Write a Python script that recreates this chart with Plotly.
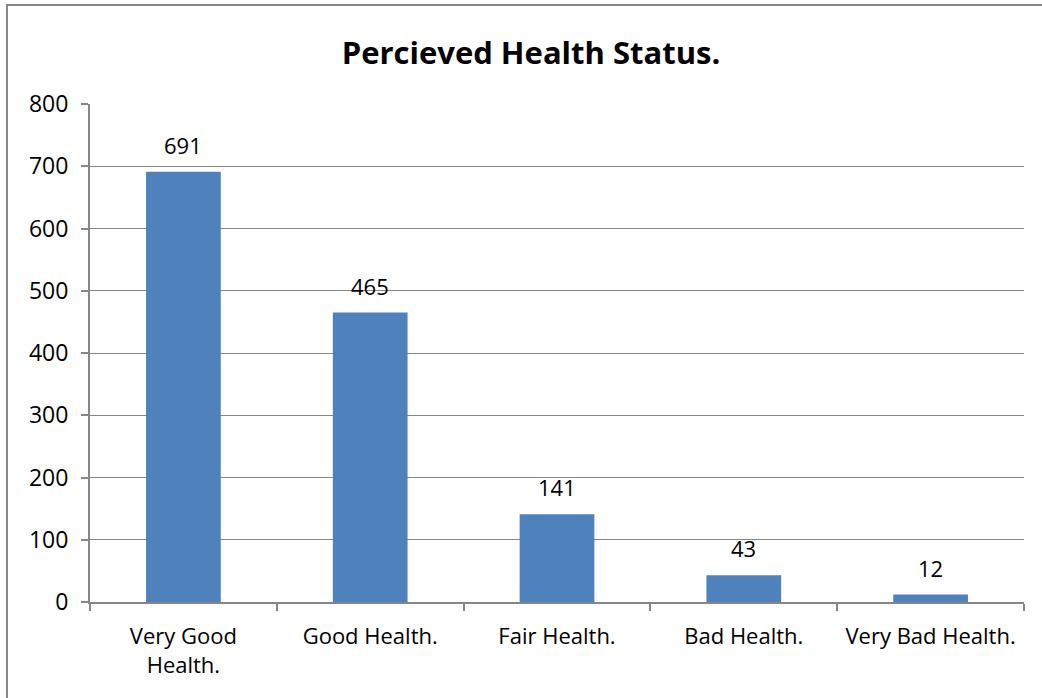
import plotly.graph_objects as go

categories = ["Very Good<br>Health.", "Good Health.", "Fair Health.", "Bad Health.", "Very Bad Health."]
counts = [691, 465, 141, 43, 12]
y_ticks = [0, 100, 200, 300, 400, 500, 600, 700, 800]

FONT = "'Open Sans', Lato, sans-serif"
GRID = "rgb(134,134,134)"

fig = go.Figure()
fig.add_trace(
    go.Bar(
        x=categories,
        y=counts,
        width=0.4,
        marker={"color": "#4F81BD", "line": {"width": 0}},
        hoverinfo="x+y",
    )
)
for cat, val in zip(categories, counts):
    fig.add_annotation(
        x=cat, y=val, text=str(val), showarrow=False,
        yanchor="bottom", yshift=10,
        font={"family": FONT, "size": 22, "color": "black"},
    )

# outer chart border: only left and top edges are visible in the reference
fig.add_shape(
    type="path", xref="paper", yref="paper",
    path="M -0.0889,-0.6 L -0.0889,1.1988 L 1.3,1.1988",
    line={"color": "rgb(134,134,134)", "width": 2},
    layer="below",
)

fig.update_layout(
    width=1042,
    height=698,
    paper_bgcolor="white",
    plot_bgcolor="white",
    margin={"l": 90, "r": 18, "t": 104, "b": 96, "autoexpand": False},
    showlegend=False,
    bargap=0.6,
    title={
        "text": "<b>Percieved Health Status.</b>",
        "x": 531 / 1042, "xanchor": "center", "xref": "container",
        "y": 1 - 53 / 698, "yanchor": "middle",
        "font": {"family": FONT, "size": 31, "color": "black"},
    },
    font={"family": FONT, "size": 22, "color": "black"},
    xaxis={
        "showline": True, "linecolor": GRID, "linewidth": 2,
        "ticks": "outside", "tickson": "boundaries", "ticklen": 7,
        "tickcolor": GRID, "tickwidth": 2,
        "showgrid": False,
        "tickangle": 0,
        "automargin": False,
        "tickfont": {"size": 22, "family": FONT},
        "ticklabelstandoff": 14,
    },
    yaxis={
        "range": [0, 800],
        "tickvals": y_ticks,
        "showline": True, "linecolor": GRID, "linewidth": 2,
        "ticks": "outside", "ticklen": 7, "tickcolor": GRID, "tickwidth": 2,
        "showgrid": True, "gridcolor": GRID, "gridwidth": 1,
        "zeroline": False,
        "automargin": False,
        "tickfont": {"size": 23, "family": FONT},
        "ticklabelstandoff": 8,
    },
)

fig.write_html(
    "out.html",
    config={"displayModeBar": False},
    post_script="document.body.style.margin='0';",
)
